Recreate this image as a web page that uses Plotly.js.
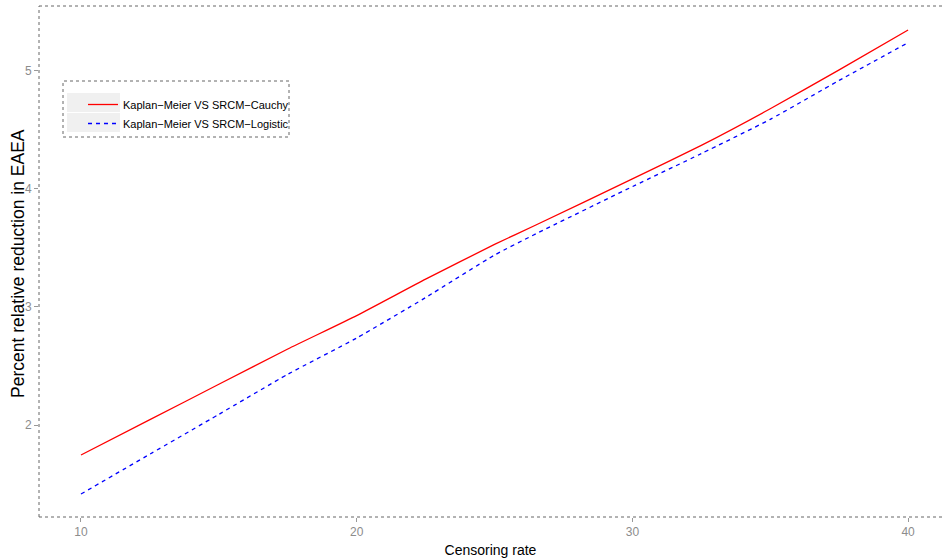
<!DOCTYPE html>
<html>
<head>
<meta charset="utf-8">
<script src="https://cdn.plot.ly/plotly-3.0.1.min.js"></script>
<style>html,body{margin:0;padding:0;background:#fff}#chart{width:942px;height:560px}</style>
</head>
<body>
<div id="chart"></div>
<script>
const censoringRate = [10, 12.5, 15, 17.5, 20, 22.5, 25, 26.5, 30, 32.5, 35, 37.5, 40];
const cauchyReduction = [1.746, 2.045, 2.345, 2.644, 2.927, 3.236, 3.53, 3.695, 4.085, 4.37, 4.68, 5.01, 5.347];
const logisticReduction = [1.415, 1.753, 2.09, 2.43, 2.737, 3.08, 3.44, 3.62, 4.02, 4.30, 4.59, 4.92, 5.24];
const seriesNames = ["Kaplan\u2212Meier VS SRCM\u2212Cauchy", "Kaplan\u2212Meier VS SRCM\u2212Logistic"];
const xTicks = [10, 20, 30, 40];
const yTicks = [2, 3, 4, 5];
const xTitle = 'Censoring rate';
const yTitle = 'Percent relative reduction in EAEA';

const traces = [
  {x: censoringRate, y: cauchyReduction, name: seriesNames[0], type: 'scatter', mode: 'lines',
   line: {color: '#ff0000', width: 1.3, shape: 'spline', smoothing: 0.5}},
  {x: censoringRate, y: logisticReduction, name: seriesNames[1], type: 'scatter', mode: 'lines',
   line: {color: '#0000ff', width: 1.3, dash: '4px,4px', shape: 'spline', smoothing: 0.5}}
];

const dotLine = {color: '#666', width: 1, dash: 'dot'};
const W = 903, H = 511, L = 39, T = 6;
const px = v => (v - L) / W;
const py = v => (T + H - v) / H;
const layout = {
  width: 942, height: 560,
  margin: {l: 39, r: 0, t: 6, b: 43},
  paper_bgcolor: '#fff', plot_bgcolor: '#fff',
  showlegend: true,
  legend: {x: px(83), y: py(90), xanchor: 'left', yanchor: 'top', bgcolor: 'rgba(0,0,0,0)',
           font: {family: '"Liberation Sans", Arial, sans-serif', size: 11, color: '#000'},
           tracegroupgap: 0, itemwidth: 30},
  xaxis: {range: [8.477, 41.23], tickvals: xTicks, ticktext: xTicks.map(String),
          showgrid: false, zeroline: false, showline: false,
          ticks: 'outside', ticklen: 4, tickcolor: '#999', tickwidth: 1,
          tickfont: {family: '"Liberation Sans", Arial, sans-serif', size: 12, color: '#8c8c8c'},
          title: {text: xTitle, standoff: 6,
                  font: {family: '"Liberation Sans", Arial, sans-serif', size: 14, color: '#000'}},
          automargin: false},
  yaxis: {range: [1.2203, 5.5508], tickvals: yTicks, ticktext: yTicks.map(String),
          showgrid: false, zeroline: false, showline: false,
          ticks: 'outside', ticklen: 4, tickcolor: '#999', tickwidth: 1,
          tickfont: {family: '"Liberation Sans", Arial, sans-serif', size: 12, color: '#8c8c8c'},
          automargin: false},
  annotations: [
    {text: yTitle, xref: 'paper', yref: 'paper', x: px(18), y: py(264), textangle: -90,
     showarrow: false, xanchor: 'center', yanchor: 'middle',
     font: {family: '"Liberation Sans", Arial, sans-serif', size: 17.5, color: '#000'}}
  ],
  shapes: [
    {type: 'line', xref: 'paper', yref: 'paper', x0: 0, x1: 1.01, y0: 1, y1: 1, line: dotLine},
    {type: 'line', xref: 'paper', yref: 'paper', x0: 0, x1: 1.01, y0: 0, y1: 0, line: dotLine},
    {type: 'line', xref: 'paper', yref: 'paper', x0: 0, x1: 0, y0: 0, y1: 1, line: dotLine},
    {type: 'rect', xref: 'paper', yref: 'paper', x0: px(63), x1: px(289),
     y0: py(137), y1: py(81), line: dotLine, fillcolor: 'rgba(0,0,0,0)', layer: 'below'},
    {type: 'rect', xref: 'paper', yref: 'paper', x0: px(67), x1: px(120),
     y0: py(112), y1: py(93), line: {width: 0}, fillcolor: '#f0f0f0', layer: 'below'},
    {type: 'rect', xref: 'paper', yref: 'paper', x0: px(67), x1: px(120),
     y0: py(132), y1: py(113), line: {width: 0}, fillcolor: '#f0f0f0', layer: 'below'}
  ]
};

Plotly.newPlot('chart', traces, layout, {displayModeBar: false, staticPlot: true});
</script>
</body>
</html>
